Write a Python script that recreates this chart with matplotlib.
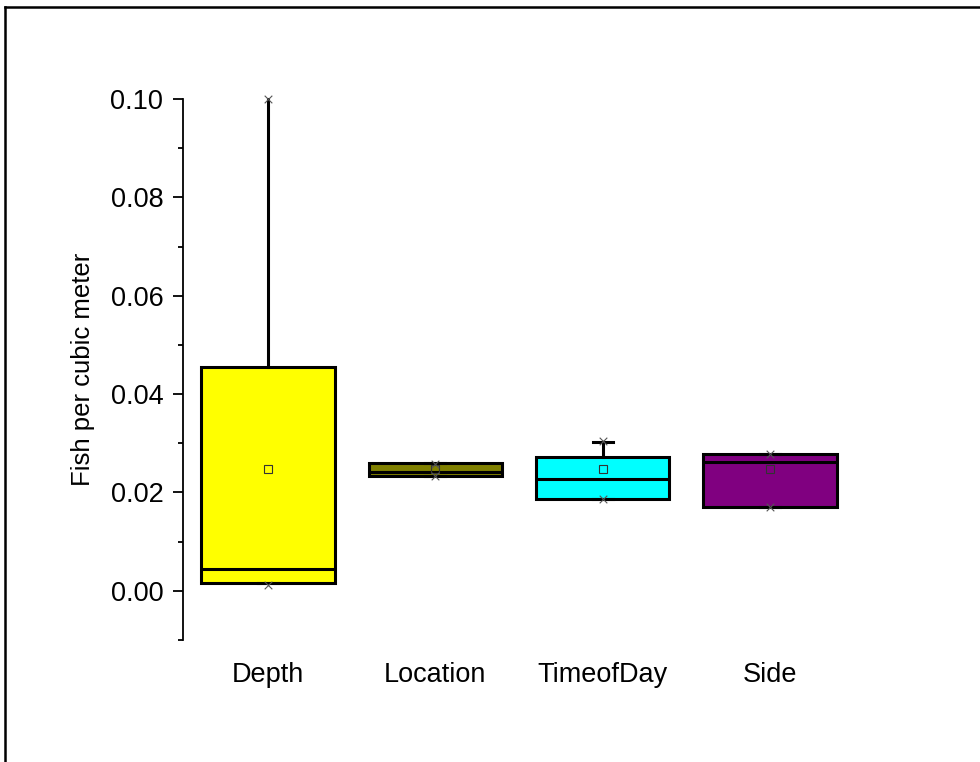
import matplotlib
matplotlib.use("Agg")
import matplotlib.pyplot as plt
from matplotlib.lines import Line2D
from matplotlib.ticker import MultipleLocator, FormatStrFormatter

categories = ["Depth", "Location", "TimeofDay", "Side"]
q1 = [0.0016, 0.0233, 0.0187, 0.0171]
medians = [0.0045, 0.0242, 0.0227, 0.0262]
q3 = [0.0456, 0.0260, 0.0272, 0.0278]
whis_lo = [0.0016, 0.0233, 0.0187, 0.0171]
whis_hi = [0.1000, 0.0260, 0.0303, 0.0278]
means = [0.0248, 0.0248, 0.0248, 0.0248]
mins = [0.0012, 0.0234, 0.0187, 0.0171]
maxs = [0.1000, 0.0258, 0.0304, 0.0279]
colors = ["#FFFF00", "#808000", "#00FFFF", "#800080"]

plt.rcParams["font.family"] = ["Liberation Sans", "DejaVu Sans"]

fig = plt.figure(figsize=(9.8, 7.62), dpi=100)
ax = fig.add_axes([183 / 980, 1 - 640 / 762, (870 - 183) / 980, (640 - 99) / 762])

positions = list(range(len(categories)))
stats = []
for i, c in enumerate(categories):
    stats.append(dict(label=c, q1=q1[i], med=medians[i], q3=q3[i],
                      whislo=whis_lo[i], whishi=whis_hi[i], mean=means[i], fliers=[]))

res = ax.bxp(stats, positions=positions, widths=0.8, patch_artist=True,
             showmeans=True, showfliers=False, capwidths=0.12,
             boxprops=dict(linewidth=2.2, edgecolor="black"),
             medianprops=dict(color="black", linewidth=2.2),
             whiskerprops=dict(color="black", linewidth=2.2),
             capprops=dict(color="black", linewidth=2.2),
             meanprops=dict(marker="s", markersize=5.5, markerfacecolor="none",
                            markeredgecolor="#333333", markeredgewidth=0.8))
for patch, col in zip(res["boxes"], colors):
    patch.set_facecolor(col)
# Depth top whisker drawn without a cap
res["caps"][1].set_visible(False)
for art in res["whiskers"] + res["caps"]:
    art.set_clip_on(False)

ax.scatter(positions, mins, marker="x", s=30, color="#555555", linewidths=0.8, zorder=4, clip_on=False)
ax.scatter(positions, maxs, marker="x", s=30, color="#555555", linewidths=0.8, zorder=4, clip_on=False)

ax.set_xlim(-0.51, 3.6)
ax.set_ylim(-0.01, 0.10)
ax.set_yticks([0.00, 0.02, 0.04, 0.06, 0.08, 0.10])
ax.yaxis.set_minor_locator(MultipleLocator(0.01))
ax.yaxis.set_major_formatter(FormatStrFormatter("%.2f"))

for s in ["top", "right", "bottom"]:
    ax.spines[s].set_visible(False)
ax.spines["left"].set_linewidth(1.3)
ax.tick_params(axis="y", which="major", length=7.2, width=1.3, pad=7, labelsize=19.5, direction="out")
ax.tick_params(axis="y", which="minor", length=3.6, width=1.3, direction="out")
ax.tick_params(axis="x", length=0, pad=16, labelsize=19.5)
ax.set_xticks(positions)
ax.set_xticklabels(categories)
ax.set_ylabel("Fish per cubic meter", fontsize=18.5, labelpad=11)

# outer frame (top and left edges visible)
fig.add_artist(Line2D([5 / 980, 1.0], [1 - 7 / 762, 1 - 7 / 762], color="black", linewidth=1.8,
                      transform=fig.transFigure))
fig.add_artist(Line2D([5 / 980, 5 / 980], [1 - 7 / 762, 0.0], color="black", linewidth=1.8,
                      transform=fig.transFigure))

fig.savefig("out.png", dpi=100)
